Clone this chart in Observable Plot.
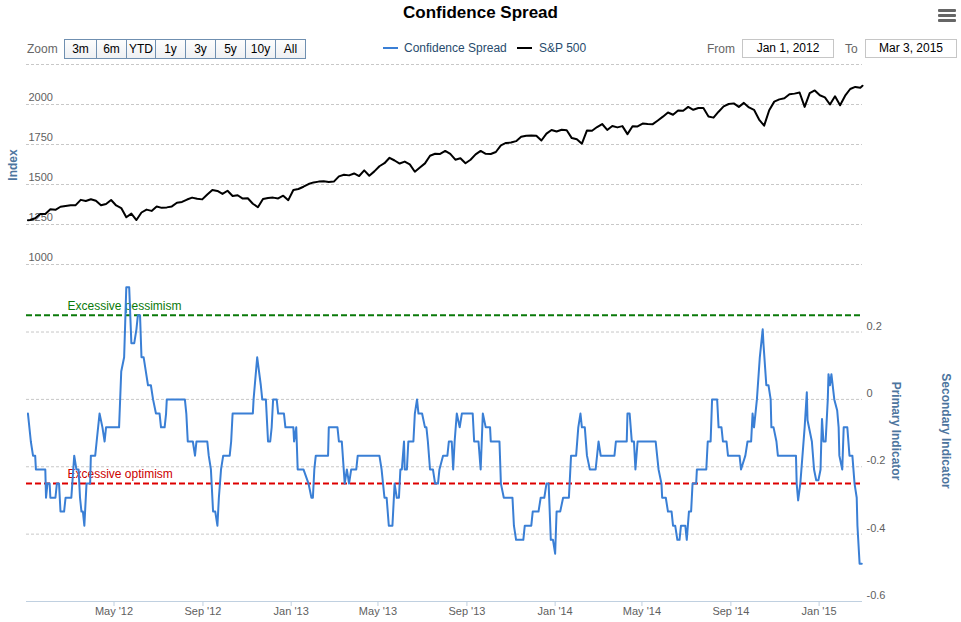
<!DOCTYPE html>
<html>
<head>
<meta charset="utf-8">
<script src="https://cdn.jsdelivr.net/npm/d3@7"></script>
<script src="https://cdn.jsdelivr.net/npm/@observablehq/plot@0.6"></script>
<style>
  html, body { margin: 0; padding: 0; background: #fff; }
  #wrap { position: relative; width: 961px; height: 622px; overflow: hidden; font-family: "Liberation Sans", Arial, sans-serif; }
  .abs { position: absolute; }
  #title { top: 3px; left: 0; width: 961px; text-align: center; font-weight: bold; font-size: 17px; line-height: 20px; color: #000; }
  .bar { position: absolute; left: 938px; width: 18px; height: 3px; background: #666; border-radius: 1px; }
  .lbl { font-size: 12px; color: #666; line-height: 16px; }
  #zoomBtns { top: 39px; left: 64px; display: flex; border: 1px solid #6f8fb0; height: 18px; }
  #zoomBtns span { display: block; height: 18px; line-height: 18px; font-size: 12px; text-align: center; color: #000; background: linear-gradient(#fdfdfd, #eef0f3); border-left: 1px solid #6f8fb0; box-sizing: border-box; }
  #zoomBtns span:first-child { border-left: none; }
  .legend-item { position: absolute; top: 40px; font-size: 12px; line-height: 16px; color: #274b6d; }
  .sym { position: absolute; top: 47px; width: 15px; height: 2px; }
  .box { position: absolute; top: 39px; width: 90px; height: 17px; border: 1px solid #c6c6c6; font-size: 12px; line-height: 17px; text-align: center; color: #000; }
  .axtitle { position: absolute; font-weight: bold; font-size: 12px; color: #4d759e; white-space: nowrap; }
  svg { overflow: visible; }
</style>
</head>
<body>
<div id="wrap">
  <div id="title" class="abs">Confidence Spread</div>
  <div class="bar" style="top:9px"></div>
  <div class="bar" style="top:14px"></div>
  <div class="bar" style="top:19px"></div>

  <div class="abs lbl" style="left:27px; top:41px;">Zoom</div>
  <div id="zoomBtns" class="abs"></div>

  <div class="sym" style="left:383px; background:#3a7fd5;"></div>
  <div class="legend-item" style="left:404px;">Confidence Spread</div>
  <div class="sym" style="left:517px; background:#000;"></div>
  <div class="legend-item" style="left:539px;">S&amp;P 500</div>

  <div class="abs lbl" style="left:707px; top:41px;">From</div>
  <div class="box" id="fromBox" style="left:742px;"></div>
  <div class="abs lbl" style="left:845px; top:41px;">To</div>
  <div class="box" id="toBox" style="left:865px;"></div>

  <div id="top" class="abs" style="left:0; top:56px;"></div>
  <div id="bottom" class="abs" style="left:0; top:270px;"></div>

  <div class="axtitle" style="left:13px; top:165px; transform: translate(-50%,-50%) rotate(-90deg);">Index</div>
  <div class="axtitle" style="left:896px; top:431px; transform: translate(-50%,-50%) rotate(90deg);">Primary Indicator</div>
  <div class="axtitle" style="left:946px; top:431px; transform: translate(-50%,-50%) rotate(90deg);">Secondary Indicator</div>
</div>
<script>
// ---------------- DATA ----------------
const zoomButtons = ["3m", "6m", "YTD", "1y", "3y", "5y", "10y", "All"];
const rangeFrom = "Jan 1, 2012";
const rangeTo = "Mar 3, 2015";
const xStart = "2012-01-01";
const xEnd = "2015-03-02";

// S&P 500: first day, weekly (Friday) closes, last day
const spxFirstDate = "2012-01-03";
const spxFirstValue = 1277;
const spxWeeklyFrom = "2012-01-06";
const spxWeeklyCloses = [
  1278,1289,1315,1316, 1345,1342,1361,1366, 1370,1371,1404,1397,1408, 1398,1370,1378,1403,
  1369,1353,1295,1318, 1278,1325,1343,1335,1362, 1354,1357,1363,1386, 1391,1406,1418,1411,1407,
  1438,1466,1460,1441, 1461,1428,1433,1412, 1414,1380,1358,1409,1416, 1418,1413,1430,1402,
  1466,1472,1486,1503, 1513,1518,1520,1516, 1518,1551,1561,1557,1569, 1553,1588,1555,1582,
  1614,1633,1667,1650,1631, 1643,1626,1580,1606, 1632,1680,1692,1691, 1710,1691,1655,1664,1633,
  1655,1688,1710,1692, 1691,1703,1745,1760, 1762,1771,1798,1805,1806, 1805,1775,1818,1841,
  1831,1842,1839,1790,1783, 1755,1838,1836,1859, 1878,1841,1866,1857, 1865,1815,1864,1863,
  1881,1878,1877,1900,1924, 1950,1936,1963,1961, 1985,1967,1978,1978, 1925,1918,1955,1988,2003,
  2007,1985,2010,1982, 1967,1906,1868,1964,2018, 2032,2039,2064,2068, 2075,1985,2071,2088,
  2058,2045,2000,2051,1995, 2055,2097,2110,2105
];
const spxLastDate = "2015-03-02";
const spxLastValue = 2117;

// Confidence Spread
const spreadDates = [
  "2012-01-03","2012-01-07","2012-01-10","2012-01-13","2012-01-14","2012-01-27","2012-01-28","2012-01-30","2012-02-02","2012-02-03",
  "2012-02-10","2012-02-12","2012-02-15","2012-02-17","2012-02-22","2012-02-24","2012-03-03","2012-03-07","2012-03-10","2012-03-13",
  "2012-03-15","2012-03-17","2012-03-19","2012-03-21","2012-03-24","2012-03-29","2012-03-30","2012-04-05","2012-04-07","2012-04-11",
  "2012-04-15","2012-04-18","2012-04-20","2012-05-08","2012-05-11","2012-05-15","2012-05-18","2012-05-22","2012-05-25","2012-05-29",
  "2012-06-01","2012-06-03","2012-06-06","2012-06-08","2012-06-11","2012-06-14","2012-06-17","2012-06-21","2012-06-24","2012-06-28",
  "2012-07-03","2012-07-05","2012-07-10","2012-07-12","2012-07-13","2012-08-07","2012-08-09","2012-08-11","2012-08-18","2012-08-21",
  "2012-08-23","2012-09-07","2012-09-09","2012-09-12","2012-09-15","2012-09-18","2012-09-21","2012-09-23","2012-09-26","2012-09-29",
  "2012-10-08","2012-10-10","2012-10-12","2012-11-09","2012-11-10","2012-11-15","2012-11-20","2012-11-22","2012-11-27","2012-11-30",
  "2012-12-03","2012-12-05","2012-12-07","2012-12-12","2012-12-14","2012-12-22","2012-12-24","2013-01-04","2013-01-05","2013-01-08",
  "2013-01-10","2013-01-18","2013-01-25","2013-01-29","2013-01-31","2013-02-02","2013-02-04",
  "2013-02-21","2013-02-22","2013-03-06","2013-03-08","2013-03-12","2013-03-16","2013-03-19","2013-03-22","2013-03-25","2013-04-01",
  "2013-04-03","2013-05-03","2013-05-06","2013-05-08","2013-05-10","2013-05-13","2013-05-16","2013-05-21","2013-05-24","2013-05-27",
  "2013-05-30","2013-06-01","2013-06-03","2013-06-06","2013-06-07","2013-06-10","2013-06-12","2013-06-19","2013-06-21","2013-06-24",
  "2013-06-26","2013-07-01","2013-07-05","2013-07-07","2013-07-09","2013-07-12","2013-07-16","2013-07-19","2013-07-23","2013-07-25",
  "2013-07-30","2013-08-05","2013-08-07","2013-08-11","2013-08-13","2013-08-15","2013-08-18","2013-08-22","2013-08-25","2013-09-09",
  "2013-09-11","2013-09-17","2013-09-20","2013-09-23","2013-09-27","2013-10-03","2013-10-04","2013-10-16","2013-10-18","2013-10-22",
  "2013-11-03","2013-11-05","2013-11-08","2013-11-18","2013-11-20","2013-11-29","2013-12-01","2013-12-09","2013-12-12","2013-12-17",
  "2013-12-20","2013-12-23","2013-12-26","2013-12-29","2014-01-01","2014-01-03","2014-01-08","2014-01-12","2014-01-20","2014-01-23",
  "2014-01-30","2014-02-02","2014-02-05","2014-02-07","2014-02-11","2014-02-14","2014-02-18","2014-02-26","2014-03-02","2014-03-05",
  "2014-03-24","2014-03-26","2014-04-10","2014-04-11","2014-04-14","2014-04-17","2014-04-20","2014-04-22","2014-04-25",
  "2014-05-20","2014-05-22","2014-05-24","2014-05-28","2014-05-29","2014-06-03","2014-06-06","2014-06-11","2014-06-13","2014-06-16",
  "2014-06-19","2014-06-22","2014-06-24","2014-06-30","2014-07-02","2014-07-05","2014-07-08","2014-07-10","2014-07-15","2014-07-16",
  "2014-07-29","2014-07-31","2014-08-04","2014-08-06","2014-08-13","2014-08-15","2014-08-19","2014-08-21","2014-08-26","2014-08-28",
  "2014-09-13","2014-09-15","2014-09-21","2014-09-24","2014-09-29","2014-10-01","2014-10-03","2014-10-07","2014-10-11","2014-10-15",
  "2014-10-16","2014-10-20","2014-10-23","2014-10-26","2014-10-27","2014-10-30","2014-11-03","2014-11-05","2014-11-30","2014-12-01",
  "2014-12-03","2014-12-06","2014-12-09","2014-12-12","2014-12-15","2014-12-16","2014-12-22","2014-12-25","2014-12-28","2014-12-31",
  "2015-01-03","2015-01-04","2015-01-05","2015-01-07","2015-01-10","2015-01-13","2015-01-14","2015-01-16","2015-01-18","2015-01-22",
  "2015-01-26","2015-01-28","2015-01-29","2015-02-02","2015-02-04","2015-02-09","2015-02-12","2015-02-16","2015-02-19","2015-02-22",
  "2015-02-23","2015-02-26","2015-03-01"
];
const spreadValues = [
  -0.042,-0.125,-0.167,-0.167,-0.208,-0.208,-0.292,-0.25,-0.25,-0.292,
  -0.292,-0.25,-0.25,-0.333,-0.333,-0.292,-0.292,-0.167,-0.208,-0.208,
  -0.292,-0.333,-0.333,-0.375,-0.25,-0.25,-0.167,-0.167,-0.125,-0.042,
  -0.083,-0.125,-0.083,-0.083,0.083,0.125,0.333,0.333,0.167,0.167,
  0.208,0.25,0.25,0.125,0.125,0.083,0.042,0.042,0,-0.042,
  -0.042,-0.083,-0.083,-0.042,0,0,-0.042,-0.125,-0.125,-0.167,
  -0.125,-0.125,-0.167,-0.208,-0.333,-0.333,-0.375,-0.292,-0.208,-0.167,
  -0.167,-0.125,-0.042,-0.042,0,0.125,0.042,0,0,-0.125,
  -0.125,-0.083,0,0,-0.042,-0.042,-0.083,-0.083,-0.125,-0.083,
  -0.208,-0.208,-0.25,-0.292,-0.292,-0.208,-0.167,
  -0.167,-0.083,-0.083,-0.125,-0.125,-0.25,-0.208,-0.25,-0.208,-0.208,
  -0.167,-0.167,-0.208,-0.25,-0.292,-0.292,-0.375,-0.375,-0.25,-0.292,
  -0.292,-0.208,-0.208,-0.125,-0.208,-0.208,-0.125,-0.125,-0.042,0,
  -0.042,-0.042,-0.083,-0.083,-0.125,-0.208,-0.208,-0.25,-0.25,-0.208,
  -0.167,-0.167,-0.125,-0.125,-0.208,-0.125,-0.042,-0.083,-0.042,-0.042,
  -0.125,-0.125,-0.208,-0.042,-0.083,-0.083,-0.125,-0.125,-0.25,-0.292,
  -0.292,-0.375,-0.417,-0.417,-0.375,-0.375,-0.333,-0.333,-0.292,-0.292,
  -0.25,-0.25,-0.417,-0.417,-0.458,-0.333,-0.333,-0.292,-0.292,-0.167,
  -0.167,-0.083,-0.042,-0.083,-0.083,-0.167,-0.208,-0.208,-0.125,-0.167,
  -0.167,-0.125,-0.125,-0.042,-0.042,-0.125,-0.125,-0.208,-0.125,
  -0.125,-0.167,-0.208,-0.25,-0.292,-0.292,-0.333,-0.333,-0.375,-0.375,
  -0.417,-0.417,-0.375,-0.375,-0.417,-0.333,-0.333,-0.25,-0.25,-0.208,
  -0.208,-0.125,-0.125,0,0,-0.083,-0.083,-0.125,-0.125,-0.167,
  -0.167,-0.208,-0.167,-0.125,-0.125,-0.042,-0.083,0,0.125,0.208,
  0.167,0.042,0.042,0,-0.083,-0.083,-0.125,-0.167,-0.167,-0.25,
  -0.3,-0.25,-0.167,-0.083,0.021,-0.062,-0.125,-0.208,-0.24,-0.24,
  -0.208,-0.125,-0.058,-0.125,-0.125,0,0.075,0.042,0.075,0,
  -0.033,-0.083,-0.167,-0.208,-0.083,-0.083,-0.167,-0.167,-0.25,-0.292,
  -0.375,-0.488,-0.488
];
// Spread series begins at 2013-02-11 segment? (kept within lists above)

const indexTicks = [1000, 1250, 1500, 1750, 2000, 2250];
const indexLabelTicks = [1000, 1250, 1500, 1750, 2000];
const spreadGrid = [0.2, 0, -0.2, -0.4];
const spreadLabelTicks = [0.2, 0, -0.2, -0.4, -0.6];
const pessimismLevel = 0.25;
const optimismLevel = -0.25;
const pessimismLabel = "Excessive pessimism";
const optimismLabel = "Excessive optimism";
const xTickDates = ["2012-05-01","2012-09-01","2013-01-01","2013-05-01","2013-09-01","2014-01-01","2014-05-01","2014-09-01","2015-01-01"];

// ---------------- BUILD ----------------
document.getElementById("fromBox").textContent = rangeFrom;
document.getElementById("toBox").textContent = rangeTo;
const btnWidths = [31, 30, 29, 30, 30, 30, 30, 30];
const zb = document.getElementById("zoomBtns");
zoomButtons.forEach((b, i) => {
  const s = document.createElement("span");
  s.textContent = b;
  s.style.width = btnWidths[i] + "px";
  zb.appendChild(s);
});

const parse = s => new Date(s + "T00:00:00Z");
const fridays = d3.utcFriday.range(parse(spxWeeklyFrom), parse("2015-02-28"));
const spx = [{date: parse(spxFirstDate), value: spxFirstValue}];
spxWeeklyCloses.forEach((v, i) => { if (fridays[i]) spx.push({date: fridays[i], value: v}); });
spx.push({date: parse(spxLastDate), value: spxLastValue});

const n = Math.min(spreadDates.length, spreadValues.length);
const spread = [];
for (let i = 0; i < n; i++) spread.push({date: parse(spreadDates[i]), value: spreadValues[i]});

const xDomain = [parse(xStart), parse(xEnd)];
const fontStyle = {fontFamily: "'Liberation Sans', Arial, sans-serif", fontSize: "11px", background: "transparent", overflow: "visible"};
const gridColor = "#c8c8c8";

const topChart = Plot.plot({
  width: 961, height: 215,
  marginLeft: 26, marginRight: 99, marginTop: 8, marginBottom: 7,
  style: fontStyle,
  x: {type: "utc", domain: xDomain, axis: null},
  y: {domain: [1000, 2250], axis: null},
  marks: [
    Plot.ruleY(indexTicks, {stroke: gridColor, strokeDasharray: "3,2", strokeWidth: 1}),
    Plot.text(indexLabelTicks, {y: d => d, text: d => String(d), frameAnchor: "left", dx: 2, dy: -7, textAnchor: "start", fill: "#606060", fontSize: 11}),
    Plot.line(spx, {x: "date", y: "value", stroke: "#000", strokeWidth: 2})
  ]
});
document.getElementById("top").appendChild(topChart);

const fmt = d3.utcFormat("%b '%y");
const bottomChart = Plot.plot({
  width: 961, height: 352,
  marginLeft: 26, marginRight: 99, marginTop: 11, marginBottom: 21,
  style: fontStyle,
  x: {type: "utc", domain: xDomain, axis: null},
  y: {domain: [-0.6, 0.35], axis: null},
  marks: [
    Plot.ruleY(spreadGrid, {stroke: gridColor, strokeDasharray: "3,2", strokeWidth: 1}),
    Plot.ruleY([-0.6], {stroke: "#C0D0E0", strokeWidth: 1}),
    Plot.text(spreadLabelTicks, {y: d => d, text: d => String(d), frameAnchor: "right", dx: 4, dy: -6, textAnchor: "start", fill: "#606060", fontSize: 11}),
    Plot.ruleY([pessimismLevel], {stroke: "#0a7a0a", strokeWidth: 2, strokeDasharray: "6,3"}),
    Plot.ruleY([optimismLevel], {stroke: "#dd0000", strokeWidth: 2, strokeDasharray: "6,3"}),
    Plot.text([pessimismLabel], {y: () => pessimismLevel, text: d => d, frameAnchor: "left", dx: 41, dy: -9, textAnchor: "start", fill: "#0a7a0a", fontSize: 12}),
    Plot.text([optimismLabel], {y: () => optimismLevel, text: d => d, frameAnchor: "left", dx: 41, dy: -9, textAnchor: "start", fill: "#cc0000", fontSize: 12}),
    Plot.line(spread, {x: "date", y: "value", stroke: "#3a7fd5", strokeWidth: 2}),
    Plot.axisX(xTickDates.map(parse), {tickFormat: fmt, tickSize: 5, tickPadding: 1, stroke: "#C0D0E0", fill: "#606060", fontSize: 11})
  ]
});
document.getElementById("bottom").appendChild(bottomChart);
</script>
</body>
</html>
